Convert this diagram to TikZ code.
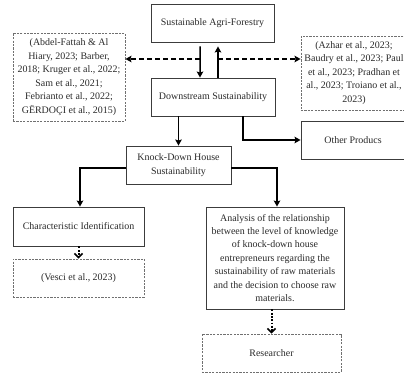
\documentclass[tikz,border=0pt]{standalone}
\usepackage{fontspec}
\setmainfont{Liberation Serif}
\usetikzlibrary{arrows.meta,calc}
\definecolor{txt}{HTML}{2A2A2A}
\definecolor{bord}{HTML}{3C3C3C}
\definecolor{dbord}{HTML}{707070}
\tikzset{
  box/.style={draw=bord,line width=0.9bp,fill=white,inner sep=0pt,align=center,text=txt,
    font=\fontsize{10}{13.5}\selectfont},
  dbox/.style={box,draw=dbord,dash pattern=on 2.2bp off 1.2bp},
  arr/.style={line width=1.5bp,-{Stealth[length=6bp,width=6.5bp,inset=1bp]}},
  dasharr/.style={line width=1.5bp,dash pattern=on 5bp off 3bp,-{Stealth[length=6bp,width=6.5bp,inset=1bp]}},
  dotarr/.style={line width=2bp,dash pattern=on 1.8bp off 1.5bp,-{Straight Barb[length=4bp,width=8bp,line width=1.6bp]}}
}
\begin{document}
\begin{tikzpicture}[x=1bp,y=-1bp]
\useasboundingbox (0,0) rectangle (404,376);
\clip (0,0) rectangle (404,376);
% boxes
\node[box,minimum width=123bp,minimum height=38bp] (saf) at (212.5,23) {Sustainable Agri-Forestry};
\node[box,minimum width=124bp,minimum height=38bp] (ds) at (213,97) {Downstream Sustainability};
\node[dbox,minimum width=112bp,minimum height=88bp] (lref) at (69,77) {(Abdel-Fattah \& Al\\Hiary, 2023; Barber,\\2018; Kruger et al., 2022;\\Sam et al., 2021;\\Febrianto et al., 2022;\\GËRDOÇI et al., 2015)};
\node[dbox,minimum width=106bp,minimum height=74bp] (rref) at (354,73) {(Azhar et al., 2023;\\Baudry et al., 2023; Paul\\et al., 2023; Pradhan et\\al., 2023; Troiano et al.,\\2023)};
\node[box,minimum width=104bp,minimum height=38bp] (op) at (353,140) {Other Producs};
\node[box,minimum width=105bp,minimum height=38bp] (kd) at (178.5,165) {Knock-Down House\\Sustainability};
\node[box,minimum width=131bp,minimum height=39bp] (ci) at (78.5,226.5) {Characteristic Identification};
\node[dbox,minimum width=131bp,minimum height=38bp] (ves) at (78.5,278) {(Vesci et al., 2023)};
\node[box,minimum width=138bp,minimum height=102bp] (an) at (275,258) {Analysis of the relationship\\between the level of knowledge\\of knock-down house\\entrepreneurs regarding the\\sustainability of raw materials\\and the decision to choose raw\\materials.};
\node[dbox,minimum width=139bp,minimum height=38bp] (res) at (271.5,353) {Researcher};
% connectors
\draw[arr] ([xshift=-12.5bp,yshift=-4bp]saf.south) -- ([xshift=-13bp]ds.north);
\draw[arr] ([xshift=5bp]ds.north) -- ([xshift=5.5bp,yshift=-4bp]saf.south);
\coordinate (jl) at (200,59);
\coordinate (jr) at (218,59);
\draw[dasharr] (jl) -- (jl -| lref.east);
\draw[dasharr] (jr) -- (jr -| rref.west);
\draw[arr] (kd.north |- ds.south) -- (kd.north);
\draw[arr] ([xshift=30bp]ds.south) |- (op.west);
\draw[arr] ([yshift=-3bp]kd.west) -| ([xshift=1.5bp]ci.north);
\draw[arr] ([yshift=-3bp]kd.east) -| ([xshift=2bp]an.north);
\draw[dotarr] (ci.south) -- (ves.north);
\draw[dotarr] (res.north |- an.south) -- (res.north);
\end{tikzpicture}
\end{document}
